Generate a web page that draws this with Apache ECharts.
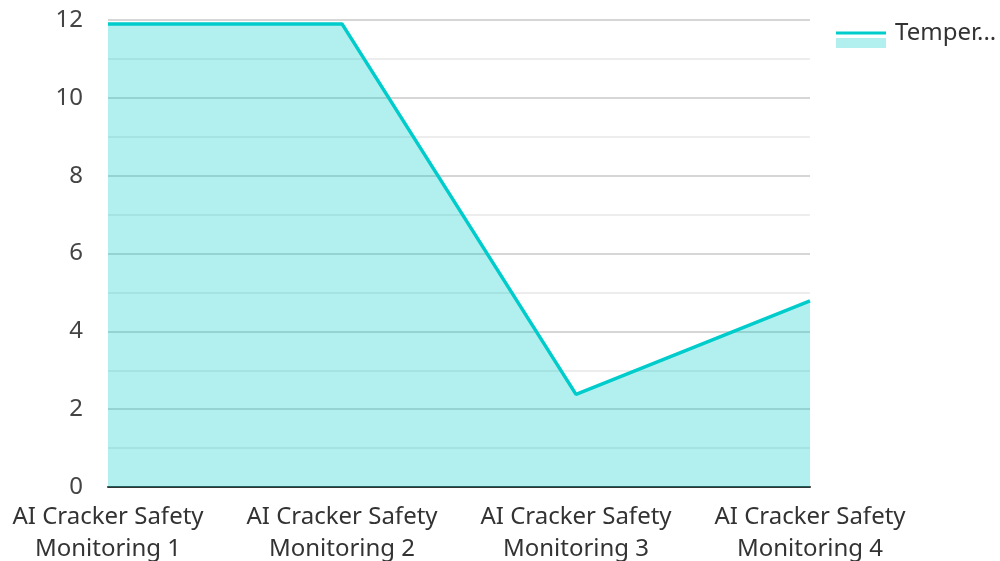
<!DOCTYPE html>
<html>
<head>
<meta charset="utf-8">
<script src="https://cdn.jsdelivr.net/npm/echarts@6/dist/echarts.min.js"></script>
<style>
  html, body { margin: 0; padding: 0; background: #fff; }
  #main { width: 1000px; height: 561px; }
</style>
</head>
<body>
<div id="main"></div>
<script>
// 数据
const categories = [
  "AI Cracker Safety\nMonitoring 1",
  "AI Cracker Safety\nMonitoring 2",
  "AI Cracker Safety\nMonitoring 3",
  "AI Cracker Safety\nMonitoring 4",
];
const seriesName = "Temperature";
const temperature = [11.9, 11.9, 2.38, 4.78];

const lineColor = "#00cccc";
const fillColor = "rgba(0, 204, 204, 0.3)";

let myChart = echarts.init(document.getElementById("main"));
const option = {
  textStyle: { fontFamily: "Noto Sans" },
  // 图例：上面一条线 + 下面一块浅色填充
  legend: [
    {
      left: 831,
      top: 16,
      icon: "rect",
      itemWidth: 50,
      itemHeight: 3,
      itemGap: 10,
      itemStyle: { color: lineColor },
      textStyle: {
        fontSize: 24,
        color: "#333",
        width: 112,
        overflow: "truncate",
        padding: [0, 0, 0, 4],
      },
      data: [seriesName],
    },
    {
      left: 831,
      top: 33,
      icon: "rect",
      itemWidth: 50,
      itemHeight: 10,
      itemStyle: { color: fillColor },
      formatter: () => "",
      textStyle: { fontSize: 10 },
      data: [seriesName],
    },
  ],
  grid: {
    left: 108,
    right: 190,
    top: 20,
    bottom: 74,
    outerBoundsMode: "none",
  },
  xAxis: {
    type: "category",
    boundaryGap: false,
    data: categories,
    axisLine: { lineStyle: { color: "#333", width: 2 } },
    axisTick: { show: false },
    axisLabel: {
      interval: 0,
      fontSize: 24,
      color: "#333",
      lineHeight: 32,
      margin: 14,
    },
  },
  yAxis: {
    type: "value",
    min: 0,
    max: 12,
    interval: 2,
    axisLabel: { fontSize: 24, color: "#444", margin: 25 },
    splitLine: { lineStyle: { color: "#c8c8c8", width: 1.5 } },
    minorTick: { show: false, splitNumber: 2 },
    minorSplitLine: { show: true, lineStyle: { color: "#e8e8e8", width: 1.5 } },
  },
  series: [
    {
      name: seriesName,
      type: "line",
      data: temperature,
      showSymbol: false,
      lineStyle: { color: lineColor, width: 3.5 },
      itemStyle: { color: lineColor },
      areaStyle: { color: lineColor, opacity: 0.3 },
    },
  ],
};
myChart.setOption(option);
</script>
</body>
</html>
